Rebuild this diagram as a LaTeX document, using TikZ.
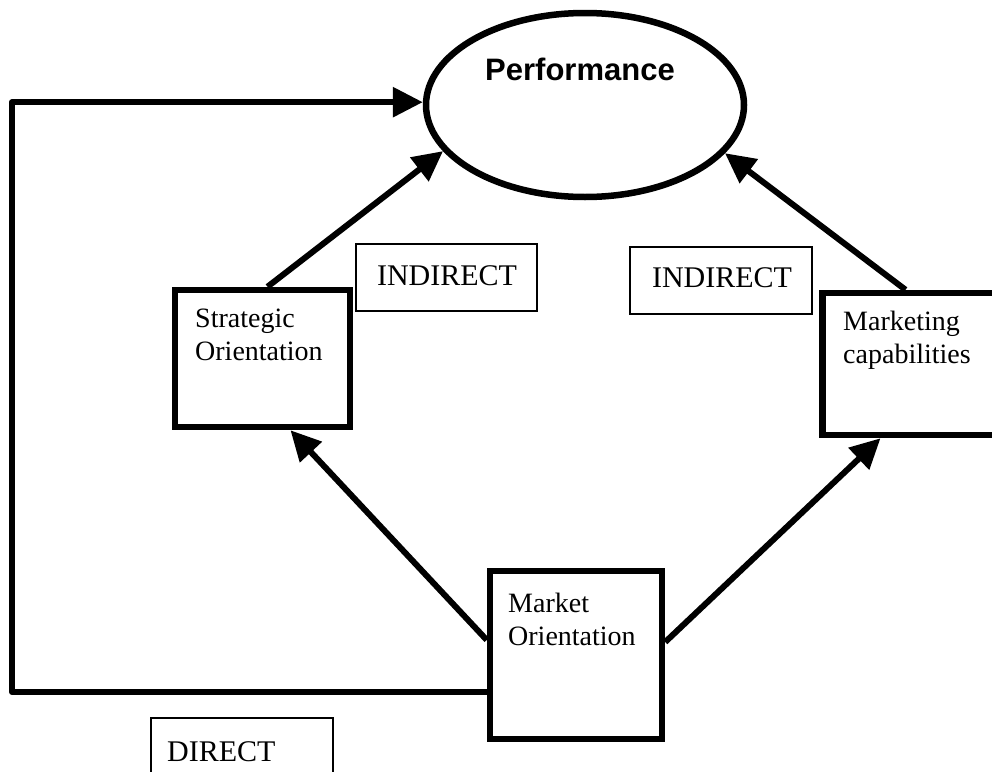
\documentclass[tikz,border=0pt]{standalone}
\usepackage{fontspec}
\setmainfont{Liberation Serif}
\newfontfamily\perffont{Liberation Sans}
\usetikzlibrary{arrows.meta,calc,shapes.geometric}
\begin{document}
\begin{tikzpicture}[x=1pt,y=-1pt,
  heavy/.style={draw, line width=6.5pt, rectangle, inner sep=0pt},
  tag/.style={draw, line width=2.5pt, rectangle, inner sep=0pt},
  link/.style={line width=6pt, line join=round, -{Triangle[length=30pt,width=29pt]}},
  lbl/.style={font=\fontsize{28}{33}\selectfont, align=left, anchor=base west, inner sep=0pt},
  tagtext/.style={font=\fontsize{30}{36}\selectfont, anchor=base, inner sep=0pt}]
\useasboundingbox (0,0) rectangle (992,771);
\clip (0,0) rectangle (992,771);

% outcome
\node[draw, ellipse, line width=6.5pt, inner sep=0pt,
      minimum width=318pt, minimum height=184pt] (perf) at (585,105) {};
\node[font=\perffont\bfseries\fontsize{31}{36}\selectfont, anchor=base, inner sep=0pt]
  (perftext) at (580,80) {Performance};

% constructs (label anchors sit on the last line's baseline)
\node[heavy, minimum width=175pt, minimum height=137pt] (so) at (262.5,358.5) {};
\node[lbl] (sotext) at (195,360) {Strategic\\Orientation};

\node[heavy, minimum width=190pt, minimum height=142pt] (mk) at (917.5,364) {};
\node[lbl] (mktext) at (843,363) {Marketing\\capabilities};

\node[heavy, minimum width=172pt, minimum height=168pt] (mo) at (576,655) {};
\node[lbl] (motext) at (508,645) {Market\\Orientation};

% path labels
\node[tag, minimum width=181pt, minimum height=67pt] (ind1) at (446.5,277.5) {};
\node[tagtext] (ind1text) at (447,285) {INDIRECT};
\node[tag, minimum width=182pt, minimum height=67pt] (ind2) at (721,280.5) {};
\node[tagtext] (ind2text) at (722,287) {INDIRECT};
\node[tag, minimum width=182pt, minimum height=80pt] (dir) at (242,758) {};
\node[tagtext, anchor=base west] (dirtext) at (167,761) {DIRECT};

% indirect paths
\draw[link] ($(so.north)+(5,0)$) -- (perf.198.6);
\draw[link] ($(mk.north)+(-12,0)$) -- (perf.341);
\draw[link] ($(mo.west)+(0,-15)$) -- ($(so.south)+(28,0)$);
\draw[link] ($(mo.east)+(0,-13)$) -- ($(mk.south)+(-37,0)$);

% direct path
\coordinate (dstart) at (492,692);
\coordinate (dcorner) at (12,692);
\draw[link] (dstart) -- (dcorner) |- (perf.179);
\end{tikzpicture}
\end{document}
